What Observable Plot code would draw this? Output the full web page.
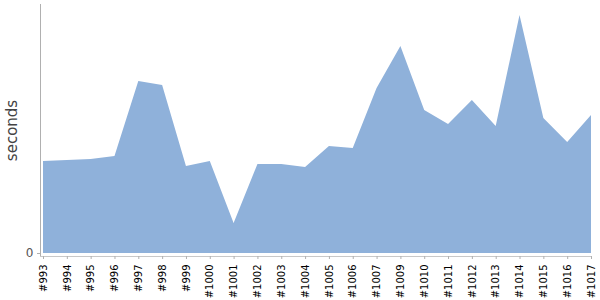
<!DOCTYPE html>
<html>
<head>
<meta charset="utf-8">
<script src="https://cdn.jsdelivr.net/npm/d3@7"></script>
<script src="https://cdn.jsdelivr.net/npm/@observablehq/plot@0.6"></script>
<style>
  html, body { margin: 0; padding: 0; background: #fff; }
</style>
</head>
<body>
<div id="chart"></div>
<script>
const builds = ["#993","#994","#995","#996","#997","#998","#999","#1000","#1001","#1002","#1003","#1004","#1005","#1006","#1007","#1009","#1010","#1011","#1012","#1013","#1014","#1015","#1016","#1017"];
const seconds = [92, 93, 94, 97, 172, 168, 87, 92, 30, 89, 89, 86, 107, 105, 165, 207, 143, 129, 153, 127, 238, 135, 111, 138];
const yTicks = [0];

const data = builds.map((b, i) => ({build: b, seconds: seconds[i]}));

const chart = Plot.plot({
  width: 600,
  height: 300,
  marginLeft: 40,
  marginRight: 9,
  marginTop: 4,
  marginBottom: 44,
  style: {fontFamily: "DejaVu Sans", background: "#fff"},
  x: {type: "point", domain: builds, padding: 0, round: false, insetLeft: 3, label: null},
  y: {domain: [0, 249], insetBottom: 3, label: null},
  marks: [
    Plot.areaY(data, {x: "build", y: "seconds", fill: "#8fb1da"}),
    Plot.frame({anchor: "left", stroke: "#b0b0b0"}),
    Plot.frame({anchor: "bottom", stroke: "#c8c8c8"}),
    Plot.axisY({ticks: yTicks, tickSize: 3, tickPadding: 4, fontSize: 12, color: "#555", stroke: "#b0b0b0", label: null}),
    Plot.axisX({tickRotate: -90, tickSize: 3, tickPadding: 5, fontSize: 10, color: "#000", stroke: "#b0b0b0", label: null}),
    Plot.text(["seconds"], {frameAnchor: "left", textAnchor: "middle", rotate: -90, dx: -28, fontSize: 15, fill: "#444", text: d => d})
  ]
});
document.getElementById("chart").appendChild(chart);
</script>
</body>
</html>
